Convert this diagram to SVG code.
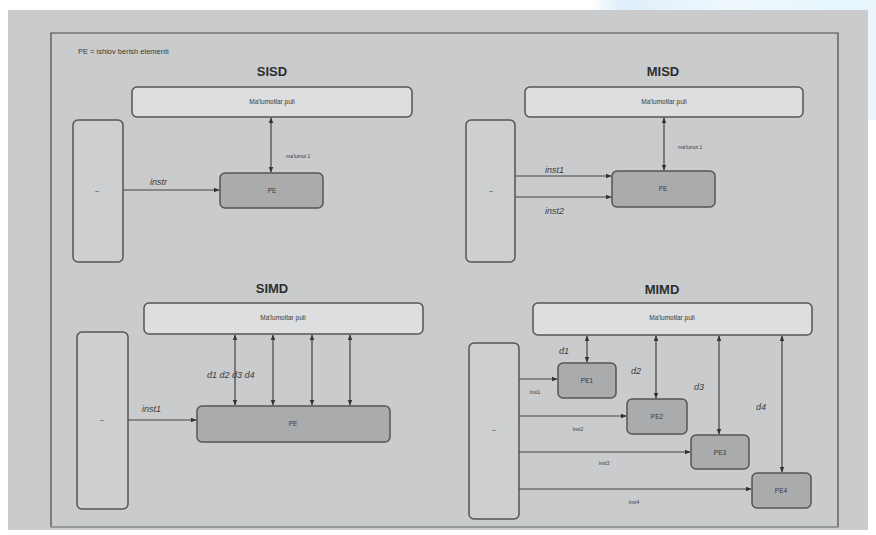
<svg xmlns="http://www.w3.org/2000/svg" width="876" height="535" viewBox="0 0 876 535">
<defs>
<linearGradient id="sky" x1="0" y1="0" x2="1" y2="0">
<stop offset="0" stop-color="#ffffff"/>
<stop offset="0.1" stop-color="#dfeefa"/>
<stop offset="0.5" stop-color="#eef8fd"/>
<stop offset="1" stop-color="#e4f6fd"/>
</linearGradient>
<marker id="ah" viewBox="0 0 10 10" refX="9" refY="5" markerWidth="5" markerHeight="5" orient="auto-start-reverse">
<path d="M0,1 L10,5 L0,9 z" fill="#333"/>
</marker>
</defs>
<style>
.t{font-family:"Liberation Sans",Arial,sans-serif;fill:#3a3a3a}
.title{font-size:13px;font-weight:bold;text-anchor:middle;fill:#2e2e2e}
.small{font-size:6.5px;text-anchor:middle}
.lbl{font-size:9px;font-style:italic}
.tiny{font-size:5px;text-anchor:middle}
.mem{fill:#dcdee0;stroke:#555;stroke-width:1.5}
.cu{fill:#cdcfd1;stroke:#555;stroke-width:1.5}
.pe{fill:#a9abad;stroke:#555;stroke-width:1.5}
.ln{stroke:#444;stroke-width:1.2;fill:none}
.arr{stroke:#444;stroke-width:1.2;fill:none;marker-end:url(#ah)}
.darr{stroke:#444;stroke-width:1.2;fill:none;marker-end:url(#ah);marker-start:url(#ah)}
</style>
<rect x="0" y="0" width="876" height="535" fill="#ffffff"/>
<rect x="590" y="0" width="286" height="11" fill="url(#sky)"/>
<rect x="868" y="0" width="8" height="120" fill="#eaf6fc"/>
<rect x="8" y="10" width="860" height="520" fill="#c9cbcd"/>
<path d="M51,527 L51,33 L838,33 L838,527 Z" fill="none" stroke="#4a4a4a" stroke-width="1.2"/>
<line x1="51" y1="527" x2="838" y2="527" stroke="#9a9c9e" stroke-width="1.5"/>
<text class="t" x="78" y="54" font-size="7.5">PE = ishlov berish elementi</text>

<g id="sisd">
<text class="t title" x="272" y="76">SISD</text>
<g id="sisd-mem"><rect class="mem" x="132" y="87" width="280" height="30" rx="5"/><text class="t small" x="272" y="104">Ma'lumotlar puli</text></g>
<g id="sisd-cu"><rect class="cu" x="73" y="120" width="50" height="142" rx="5"/><text class="t small" x="97" y="193">–</text></g>
<g id="sisd-pe"><rect class="pe" x="220" y="173" width="103" height="35" rx="5"/><text class="t small" x="272" y="193">PE</text></g>
</g>

<g id="misd">
<text class="t title" x="663" y="76">MISD</text>
<g id="misd-mem"><rect class="mem" x="525" y="87" width="278" height="30" rx="5"/><text class="t small" x="664" y="104">Ma'lumotlar puli</text></g>
<g id="misd-cu"><rect class="cu" x="466" y="120" width="49" height="142" rx="5"/><text class="t small" x="491" y="193">–</text></g>
<g id="misd-pe"><rect class="pe" x="612" y="171" width="103" height="36" rx="5"/><text class="t small" x="663" y="191">PE</text></g>
</g>

<g id="simd">
<text class="t title" x="272" y="293">SIMD</text>
<g id="simd-mem"><rect class="mem" x="144" y="303" width="279" height="31" rx="5"/><text class="t small" x="283" y="320">Ma'lumotlar puli</text></g>
<g id="simd-cu"><rect class="cu" x="77" y="332" width="51" height="177" rx="5"/><text class="t small" x="102" y="422">–</text></g>
<g id="simd-pe"><rect class="pe" x="197" y="406" width="193" height="36" rx="5"/><text class="t small" x="293" y="426">PE</text></g>
</g>

<g id="mimd">
<text class="t title" x="662" y="294">MIMD</text>
<g id="mimd-mem"><rect class="mem" x="533" y="303" width="279" height="32" rx="5"/><text class="t small" x="672" y="320">Ma'lumotlar puli</text></g>
<g id="mimd-cu"><rect class="cu" x="469" y="343" width="50" height="176" rx="5"/><text class="t small" x="494" y="432">–</text></g>
<g id="mimd-pe1"><rect class="pe" x="558" y="363" width="58" height="35" rx="5"/><text class="t small" x="587" y="383" font-size="8">PE1</text></g>
<g id="mimd-pe2"><rect class="pe" x="627" y="399" width="60" height="35" rx="5"/><text class="t small" x="657" y="419" font-size="8">PE2</text></g>
<g id="mimd-pe3"><rect class="pe" x="691" y="435" width="58" height="34" rx="5"/><text class="t small" x="720" y="455" font-size="8">PE3</text></g>
<g id="mimd-pe4"><rect class="pe" x="752" y="473" width="59" height="35" rx="5"/><text class="t small" x="781" y="493" font-size="8">PE4</text></g>
</g>

<g id="connectors">
<line class="arr" x1="123" y1="190" x2="219" y2="190"/>
<text class="t lbl" x="150" y="185">instr</text>
<line class="darr" x1="271" y1="118" x2="271" y2="172"/>
<text class="t" x="286" y="158" font-size="5">ma'lumot 1</text>

<line class="arr" x1="515" y1="176" x2="611" y2="176"/>
<line class="arr" x1="515" y1="197" x2="611" y2="197"/>
<text class="t lbl" x="545" y="173">inst1</text>
<text class="t lbl" x="545" y="214">inst2</text>
<line class="darr" x1="664" y1="118" x2="664" y2="170"/>
<text class="t" x="678" y="149" font-size="5">ma'lumot 1</text>

<line class="arr" x1="128" y1="420" x2="196" y2="420"/>
<text class="t lbl" x="142" y="412">inst1</text>
<line class="darr" x1="235" y1="335" x2="235" y2="405"/>
<line class="darr" x1="273" y1="335" x2="273" y2="405"/>
<line class="darr" x1="312" y1="335" x2="312" y2="405"/>
<line class="darr" x1="350" y1="335" x2="350" y2="405"/>
<text class="t lbl" x="207" y="378">d1 d2 d3 d4</text>

<line class="darr" x1="587" y1="336" x2="587" y2="362"/>
<line class="darr" x1="656" y1="336" x2="656" y2="398"/>
<line class="darr" x1="719" y1="336" x2="719" y2="434"/>
<line class="darr" x1="782" y1="336" x2="782" y2="472"/>
<text class="t lbl" x="559" y="354">d1</text>
<text class="t lbl" x="631" y="374">d2</text>
<text class="t lbl" x="694" y="390">d3</text>
<text class="t lbl" x="756" y="410">d4</text>

<line class="arr" x1="519" y1="379" x2="557" y2="379"/>
<line class="arr" x1="519" y1="416" x2="626" y2="416"/>
<line class="arr" x1="519" y1="452" x2="690" y2="452"/>
<line class="arr" x1="519" y1="489" x2="751" y2="489"/>
<text class="t tiny" x="535" y="394">inst1</text>
<text class="t tiny" x="578" y="431">inst2</text>
<text class="t tiny" x="604" y="465">inst3</text>
<text class="t tiny" x="634" y="504">inst4</text>
</g>
</svg>
